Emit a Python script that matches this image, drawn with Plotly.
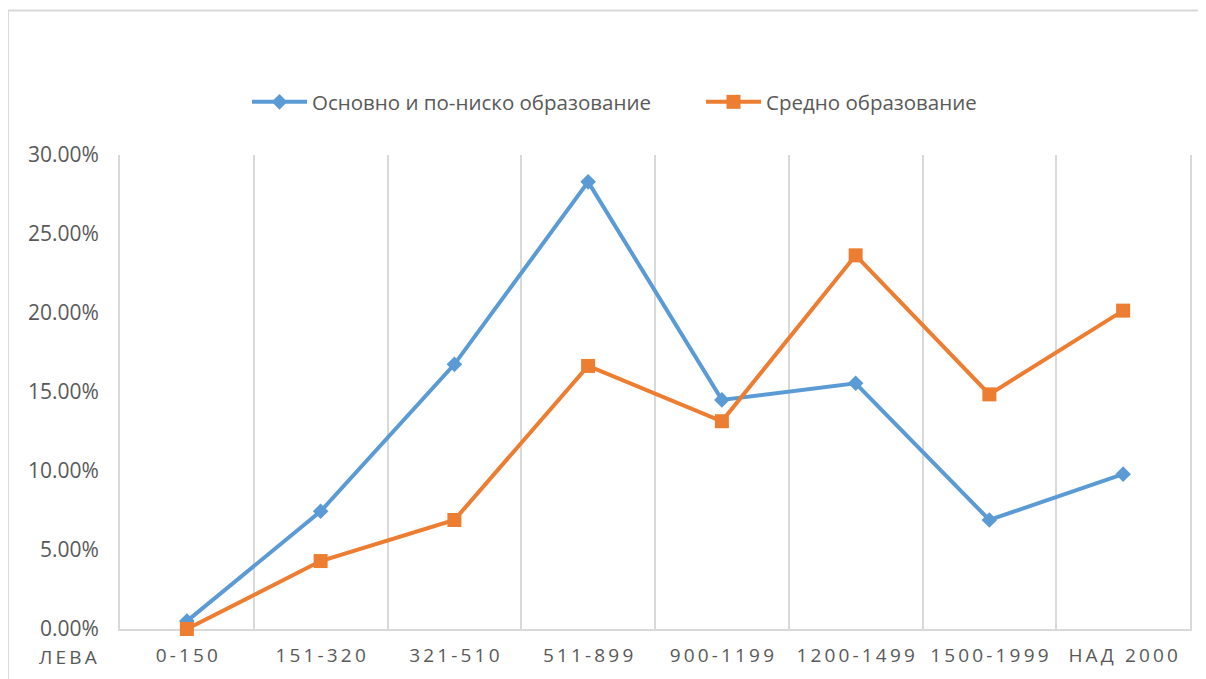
import plotly.graph_objects as go

categories = ["0-150", "151-320", "321-510", "511-899", "900-1199", "1200-1499", "1500-1999", "НАД 2000"]
basic_edu = [0.005, 0.0745, 0.1675, 0.283, 0.145, 0.1555, 0.069, 0.098]
secondary_edu = [0.0, 0.043, 0.069, 0.1665, 0.1315, 0.2365, 0.1485, 0.2015]
series_names = ["Основно и по-ниско образование", "Средно образование"]
axis_unit_label = "ЛЕВА"

BLUE = "#5B9BD5"
ORANGE = "#ED7D31"
GRID = "#D9D9D9"
TEXT = "#595959"
FONT = "Open Sans, Liberation Sans, sans-serif"

def spaced(s):
    return "\u2009".join(list(s))

fig = go.Figure()
fig.add_trace(go.Scatter(
    x=categories, y=basic_edu, name=series_names[0], mode="lines+markers", cliponaxis=False,
    line=dict(color=BLUE, width=4), marker=dict(symbol="diamond", size=12, color=BLUE),
))
fig.add_trace(go.Scatter(
    x=categories, y=secondary_edu, name=series_names[1], mode="lines+markers", cliponaxis=False,
    line=dict(color=ORANGE, width=4), marker=dict(symbol="square", size=14, color=ORANGE),
))

OFF = 8  # page body margin
W, H = 1206 - OFF, 679 - OFF
L, R, T, B = 120 - OFF, 16, 155 - OFF, 50
pw, ph = W - L - R, H - T - B

def px_x(p):
    # p in screenshot pixels
    return (p - OFF - L) / pw

def px_y(p):
    return (H - B - (p - OFF)) / ph

fig.update_layout(
    width=W, height=H,
    margin=dict(l=L, r=R, t=T, b=B, autoexpand=False),
    paper_bgcolor="white", plot_bgcolor="white",
    font=dict(family=FONT, color=TEXT),
    showlegend=True,
    legend=dict(orientation="h", x=px_x(701), xanchor="center", y=px_y(102), yanchor="middle",
                font=dict(size=20.5, color=TEXT), itemwidth=55, tracegroupgap=0,
                entrywidth=384, entrywidthmode="pixels"),
    xaxis=dict(
        type="category", categoryorder="array", categoryarray=categories,
        tickmode="array", tickvals=categories, ticktext=[spaced(c) for c in categories],
        tickson="boundaries", showgrid=True, gridcolor=GRID, gridwidth=2,
        showline=True, linecolor=GRID, linewidth=2, ticks="", layer="below traces",
        tickfont=dict(size=19, color=TEXT), ticklabelstandoff=8,
        range=[-0.5, len(categories) - 0.5], zeroline=False,
    ),
    yaxis=dict(
        range=[0, 0.30], tickvals=[0, 0.05, 0.10, 0.15, 0.20, 0.25, 0.30],
        tickformat=".2%", showgrid=False, zeroline=False, layer="below traces",
        showline=True, linecolor=GRID, linewidth=2, mirror=True, ticks="",
        tickfont=dict(size=21, color=TEXT), ticklabelstandoff=15,
    ),
    shapes=[dict(type="rect", xref="paper", yref="paper",
                 x0=px_x(8), x1=px_x(1212), y0=px_y(690), y1=px_y(10.5),
                 line=dict(color=GRID, width=2), fillcolor="rgba(0,0,0,0)", layer="below")],
    annotations=[dict(text=spaced(axis_unit_label), xref="paper", yref="paper",
                      x=px_x(68), y=px_y(657), xanchor="center", yanchor="middle",
                      showarrow=False, font=dict(size=19, color=TEXT))],
)

fig.write_html("out.html")
